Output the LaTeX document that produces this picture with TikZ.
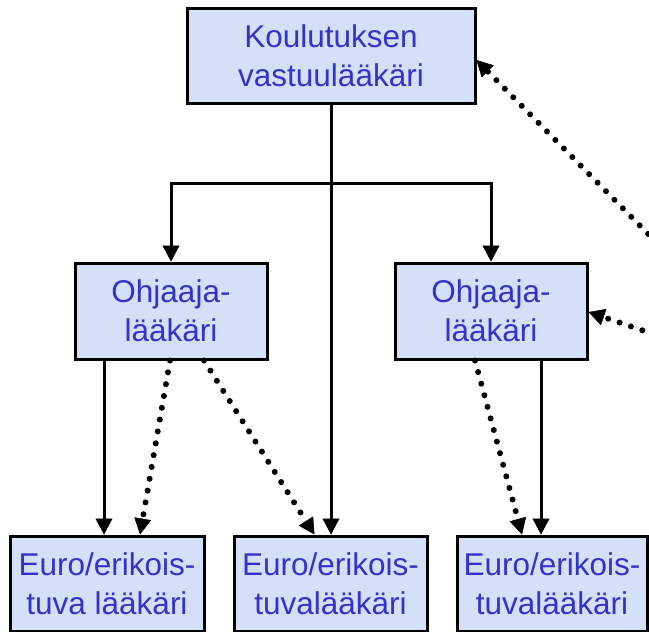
\documentclass[tikz,border=0pt]{standalone}
\usepackage{fontspec}
\setmainfont{Liberation Sans}
\usetikzlibrary{arrows.meta}
\definecolor{boxfill}{RGB}{212,224,247}
\definecolor{txtblue}{RGB}{51,51,204}
\begin{document}
\begin{tikzpicture}[x=1pt,y=-1pt,
  box/.style={draw=black, line width=3pt, fill=boxfill, text=txtblue,
    font=\fontsize{31.5}{39}\selectfont, align=center, inner sep=0pt},
  tip/.style={-{Triangle[length=16pt,width=17pt,line width=0.5pt]}},
  solidline/.style={draw=black, line width=3pt, tip},
  dotline/.style={draw=black, line width=6pt, line cap=round,
    dash pattern=on 0pt off 12pt, tip}]
\useasboundingbox (0,0) rectangle (649,632);
\clip (0,0) rectangle (649,632);

\node[box, minimum width=288pt, minimum height=95pt] (top) at (331,55.5) {Koulutuksen\\vastuulääkäri};
\node[box, minimum width=192pt, minimum height=96pt] (oh1) at (171,311) {Ohjaaja-\\lääkäri};
\node[box, minimum width=192pt, minimum height=96pt] (oh2) at (491,311) {Ohjaaja-\\lääkäri};
\node[box, minimum width=194pt, minimum height=95pt] (b1) at (107,583.5) {Euro/erikois-\\tuva lääkäri};
\node[box, minimum width=193pt, minimum height=95pt] (b2) at (330.5,583.5) {Euro/erikois-\\tuvalääkäri};
\node[box, minimum width=190pt, minimum height=95pt] (b3) at (552,583.5) {Euro/erikois-\\tuvalääkäri};

\coordinate (split) at (331,183);
\coordinate (f1) at (665,251);
\coordinate (f2) at (665,338);

% tree from top
\draw[solidline] (top.south) -- (top.south |- b2.north);
\draw[line width=3pt] (top.south) -- (split);
\draw[solidline] (split) -| (oh1.north);
\draw[solidline] (split) -| (oh2.north);

% left Ohjaaja
\draw[solidline] ([xshift=-67pt]oh1.south) -- ([xshift=-3pt]b1.north);
\draw[dotline] ([xshift=-1pt]oh1.south) -- ([xshift=33pt]b1.north);
\draw[dotline] ([xshift=33pt]oh1.south) -- ([xshift=-16pt]b2.north);

% right Ohjaaja
\draw[dotline] ([xshift=-16pt]oh2.south) -- ([xshift=-30pt]b3.north);
\draw[solidline] ([xshift=50pt]oh2.south) -- ([xshift=-11pt]b3.north);

% dotted arrows from outside
\draw[dotline] (f1) -- ([yshift=-4.5pt]top.east);
\draw[dotline] (f2) -- ([yshift=-1pt]oh2.east);
\end{tikzpicture}
\end{document}
